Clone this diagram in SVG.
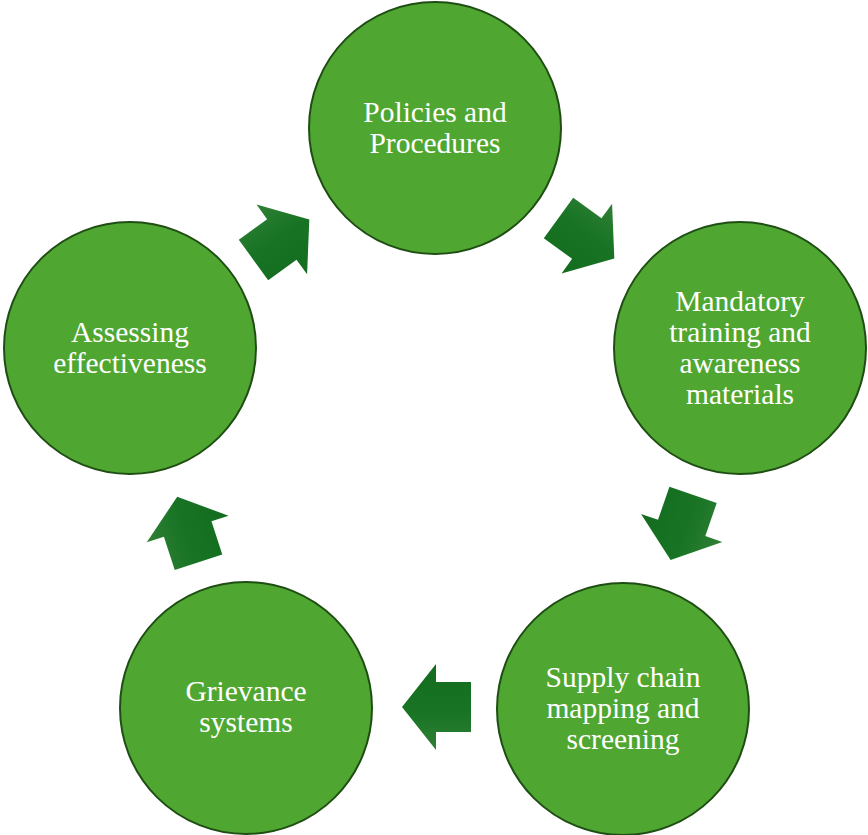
<svg xmlns="http://www.w3.org/2000/svg" width="868" height="835" viewBox="0 0 868 835">
<style>
.c{fill:#4fa732;stroke:#1f4e14;stroke-width:2}
.t{font-family:"Liberation Serif","Times New Roman",serif;font-size:29.5px;fill:#fff;text-anchor:middle}
.a{fill:url(#g)}
</style>
<defs>
<linearGradient id="g" x1="0" y1="0" x2="0" y2="1">
<stop offset="0" stop-color="#2f7f35"/>
<stop offset="0.45" stop-color="#187424"/>
<stop offset="1" stop-color="#146c1f"/>
</linearGradient>
<polygon id="arr" points="-34,-25 1,-25 1,-43 35,0 1,43 1,25 -34,25"/>
</defs>
<g id="connectors">
<use href="#arr" class="a" transform="translate(586,238) rotate(36)"/>
<use href="#arr" class="a" transform="translate(682,527) rotate(109)"/>
<use href="#arr" class="a" transform="translate(437,707) rotate(180)"/>
<use href="#arr" class="a" transform="translate(188,530) rotate(252)"/>
<use href="#arr" class="a" transform="translate(281,240) rotate(324)"/>
</g>
<g id="n1"><circle class="c" cx="435" cy="128" r="126"/>
<text class="t" x="435" y="122">Policies and</text><text class="t" x="435" y="153">Procedures</text></g>
<g id="n2"><circle class="c" cx="740" cy="348" r="126"/>
<text class="t" x="740" y="311">Mandatory</text><text class="t" x="740" y="342">training and</text><text class="t" x="740" y="373">awareness</text><text class="t" x="740" y="404">materials</text></g>
<g id="n3"><circle class="c" cx="623" cy="709" r="126"/>
<text class="t" x="623" y="687">Supply chain</text><text class="t" x="623" y="718">mapping and</text><text class="t" x="623" y="749">screening</text></g>
<g id="n4"><circle class="c" cx="246" cy="708" r="126"/>
<text class="t" x="246" y="701">Grievance</text><text class="t" x="246" y="732">systems</text></g>
<g id="n5"><circle class="c" cx="130" cy="348" r="126"/>
<text class="t" x="130" y="342">Assessing</text><text class="t" x="130" y="373">effectiveness</text></g>
</svg>
